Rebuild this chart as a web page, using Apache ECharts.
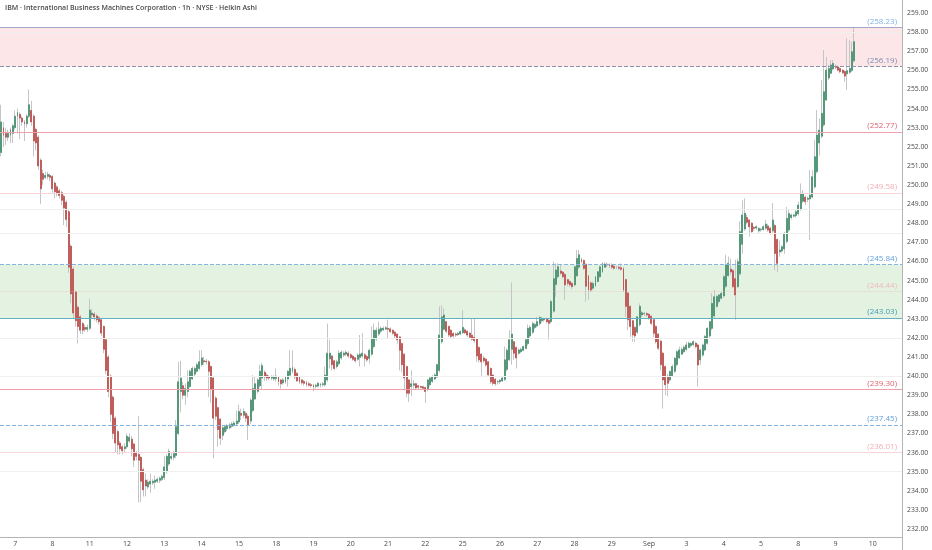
<!DOCTYPE html>
<html>
<head>
<meta charset="utf-8">
<title>IBM 1h Heikin Ashi</title>
<style>
  html, body { margin: 0; padding: 0; background: #fff; }
  #chart { width: 932px; height: 550px; }
</style>
</head>
<body>
<div id="chart"></div>
<script src="https://cdn.jsdelivr.net/npm/echarts@6/dist/echarts.min.js"></script>
<script>
var titleText = 'IBM · International Business Machines Corporation · 1h · NYSE · Heikin Ashi';

// trading days on screen and the text printed under each day's first bar
var dayNames = ['Aug 6','Aug 7','Aug 8','Aug 11','Aug 12','Aug 13','Aug 14','Aug 15','Aug 18','Aug 19','Aug 20',
  'Aug 21','Aug 22','Aug 25','Aug 26','Aug 27','Aug 28','Aug 29','Sep 2','Sep 3','Sep 4','Sep 5','Sep 8','Sep 9','Sep 10'];
var dayTicks = ['','7','8','11','12','13','14','15','18','19','20','21','22','25','26','27','28','29','Sep','3','4','5','8','9','10'];
// extended session, 1h bars
var hours = ['04:00','05:00','06:00','07:00','08:00','09:00','10:00','11:00','12:00','13:00','14:00','15:00','16:00','17:00','18:00','19:00'];
var firstDayHours = hours.slice(10);   // Aug 6 is cut at the left edge
var lastDayHours = hours.slice(0, 13); // Sep 10 is cut at the price scale

// Heikin Ashi bars [open, close, low, high]
var wk1 = [ // Aug 6 - Aug 8
  [251.7,253.3,251.5,254.2],[253.0,252.6,252.0,253.3],[252.7,252.5,252.1,253.0],[252.5,252.7,252.3,252.9],
  [252.6,252.9,252.2,253.0],[252.7,253.1,252.2,253.2],[253.0,253.6,252.9,253.9],[253.6,253.8,252.7,254.0],
  [253.7,253.5,252.4,253.8],[253.5,253.3,253.1,253.6],[253.3,253.2,252.3,253.4],[253.2,253.6,253.0,253.7],
  [253.6,254.2,253.5,255.0],[253.9,253.3,253.1,254.4],[253.6,252.3,251.5,253.7],[252.9,252.2,251.8,253.0],
  [252.5,251.0,250.8,252.6],[251.3,249.8,249.0,251.4],[250.6,250.3,250.0,250.8],[250.4,250.5,250.3,250.7],
  [250.45,250.55,250.3,250.7],[250.5,250.4,250.2,250.6],[250.45,249.8,249.6,250.5],[250.1,249.65,249.3,250.2],
  [249.9,249.55,249.4,250.0],[249.7,249.45,249.3,249.8],[249.6,249.2,248.95,249.7],[249.4,248.8,247.9,249.5],
  [249.1,248.2,247.8,249.2],[248.6,245.7,245.4,248.7],[246.8,244.3,243.8,246.9],[245.6,243.3,243.0,245.7],
  [244.4,242.9,242.6,244.5],[243.6,242.6,241.7,243.7],[243.1,242.4,242.2,243.2],[242.75,242.4,242.2,242.85],
  [242.55,242.45,242.3,242.7],[242.45,242.55,242.3,242.7]
];
var wk2 = [ // Aug 11 - Aug 15
  [242.5,243.45,242.4,244.05],[243.2,243.3,243.0,243.5],[243.25,243.1,242.9,243.35],[243.15,242.95,242.8,243.25],
  [243.05,242.85,242.7,243.15],[242.95,242.25,242.1,243.0],[242.6,241.4,241.2,242.65],[241.9,240.3,240.1,242.0],
  [241.0,239.2,238.9,241.1],[240.0,238.0,237.6,240.1],[238.9,237.0,236.7,239.0],[237.8,236.5,236.0,237.9],
  [237.1,236.4,235.9,237.2],[236.5,236.2,235.9,236.6],[236.3,236.1,235.9,236.4],[236.2,236.3,236.0,236.5],
  [236.3,236.85,236.2,237.0],[236.6,236.8,236.5,237.0],[236.7,236.2,235.8,236.85],[236.45,235.6,235.25,236.5],
  [236.0,235.8,235.6,236.1],[235.9,235.6,233.4,237.9],[235.75,234.5,233.4,235.8],[235.1,234.05,233.7,235.2],
  [234.55,234.25,233.7,234.9],[234.2,234.45,234.1,234.6],[234.35,234.5,233.9,234.9],[234.42,234.5,234.3,234.6],
  [234.45,234.55,234.1,234.8],[234.5,234.6,234.4,234.7],[234.55,234.65,234.4,234.75],[234.6,234.75,234.5,234.85],
  [234.7,235.25,234.55,235.8],[235.0,235.8,234.9,235.9],[235.4,236.05,235.3,236.2],[235.7,235.8,235.6,236.0],
  [235.75,235.95,235.6,236.1],[235.85,237.35,235.7,237.7],[237.0,239.7,236.9,240.75],[239.2,239.9,238.1,240.8],
  [239.5,239.0,238.8,239.7],[239.0,239.35,238.5,239.6],[239.2,239.7,238.9,240.3],[239.45,240.25,239.4,240.35],
  [239.85,240.4,239.8,240.5],[240.1,240.4,240.0,240.5],[240.25,240.6,240.2,240.7],[240.4,240.75,240.3,241.35],
  [240.6,240.95,240.5,241.35],[240.8,240.75,240.6,241.0],[240.78,240.75,240.6,240.9],[240.75,240.25,238.9,240.85],
  [240.5,239.3,238.6,240.55],[239.9,237.8,235.7,240.0],[238.85,237.9,237.7,238.95],[238.35,237.2,236.3,238.4],
  [237.75,236.75,236.4,237.8],[236.9,237.3,236.65,237.4],[237.1,237.35,237.0,237.45],[237.25,237.4,237.1,237.5],
  [237.3,237.45,237.2,237.55],[237.38,237.5,237.3,237.6],[237.45,237.55,237.35,237.65],[237.5,237.65,237.4,238.2],
  [237.6,238.15,237.5,238.5],[238.05,237.95,237.7,238.3],[237.95,238.15,237.8,238.3],[238.05,237.8,237.6,238.15],
  [237.9,237.45,236.65,238.0],[237.65,238.75,237.5,238.85],[238.2,239.35,238.1,240.05],[238.8,239.6,238.75,239.95],
  [239.2,239.8,239.1,239.9],[239.5,240.25,239.4,240.6],[239.9,240.55,239.3,240.7],[240.2,239.95,239.75,240.3],
  [240.05,239.9,239.75,240.15],[239.95,239.9,239.8,240.05],[239.9,239.95,239.8,240.05],[239.85,239.95,239.75,240.05]
];
var wk3 = [ // Aug 18 - Aug 22
  [239.88,240.0,239.7,240.4],[239.95,239.7,239.5,240.0],[239.8,239.6,239.35,239.85],[239.65,239.8,239.55,239.9],
  [239.7,239.95,239.6,240.0],[239.85,240.25,239.45,240.3],[240.05,240.4,239.95,241.35],[240.25,240.45,240.15,241.35],
  [240.35,239.95,239.85,240.45],[240.15,239.75,239.7,240.2],[239.95,239.7,239.6,240.0],[239.8,239.65,239.55,239.85],
  [239.72,239.62,239.5,239.8],[239.67,239.55,239.45,239.75],[239.6,239.52,239.45,239.7],[239.55,239.5,239.4,239.65],
  [239.52,239.44,239.2,239.6],[239.47,239.52,239.35,239.6],[239.48,239.62,239.4,239.7],[239.53,239.58,239.4,239.65],
  [239.55,239.6,239.45,239.7],[239.55,240.05,239.45,240.5],[239.8,241.2,239.7,242.75],[240.9,241.2,240.4,241.9],
  [241.05,240.6,240.3,241.1],[240.8,240.4,240.3,240.85],[240.5,240.75,240.4,240.85],[240.65,241.2,240.55,241.35],
  [240.95,241.25,240.85,241.35],[241.1,241.2,241.0,241.3],[241.15,241.25,241.05,241.35],[241.2,241.05,240.95,241.3],
  [241.12,240.97,240.9,241.2],[241.05,240.88,240.8,241.1],[240.96,240.8,240.7,241.0],[240.88,241.1,240.8,241.2],
  [240.98,241.15,240.5,242.15],[241.05,241.2,240.95,242.25],[241.12,240.92,240.5,241.2],[241.02,240.84,240.75,241.1],
  [240.93,241.35,240.65,241.45],[241.15,241.95,241.05,242.6],[241.55,242.4,241.45,242.75],[241.95,242.4,241.85,242.55],
  [242.2,242.45,242.1,242.85],[242.35,242.5,242.25,242.6],[242.42,242.5,242.35,242.6],[242.46,242.53,242.4,242.62],
  [242.5,242.45,242.0,242.95],[242.47,242.33,242.25,242.55],[242.4,242.24,242.15,242.45],[242.3,242.1,242.0,242.35],
  [242.2,241.9,241.7,242.25],[242.05,241.35,240.3,242.1],[241.7,240.6,240.2,241.75],[241.15,239.9,239.25,241.2],
  [240.5,239.1,238.9,240.55],[239.8,239.1,238.65,239.85],[239.45,239.6,238.95,240.3],[239.52,239.6,239.35,239.8],
  [239.6,239.38,239.3,239.65],[239.5,239.42,239.3,239.55],[239.46,239.41,239.35,239.5],[239.44,239.36,239.3,239.5],
  [239.4,239.2,238.6,239.45],[239.3,239.8,239.2,239.85],[239.55,239.9,239.45,239.97],[239.72,239.97,239.65,240.05],
  [239.85,240.06,239.8,240.15],[239.95,240.6,239.9,240.65],[240.3,242.15,240.2,243.65],[241.8,243.1,241.7,243.7],
  [242.45,243.2,242.4,243.55],[242.85,242.35,242.25,242.9],[242.6,242.15,242.05,242.65],[242.4,242.07,242.0,242.45],
  [242.23,242.1,242.0,242.3],[242.2,242.15,242.05,242.28],[242.17,242.24,242.1,242.3],[242.2,242.33,242.15,242.4]
];
var wk4 = [ // Aug 25 - Aug 29
  [242.27,242.55,242.2,243.45],[242.42,242.27,242.2,242.5],[242.35,242.15,242.05,242.4],[242.25,242.03,241.95,242.3],
  [242.14,241.93,241.85,243.0],[242.03,241.86,241.75,243.0],[241.95,241.05,240.75,242.0],[241.5,240.85,240.7,241.55],
  [241.15,240.75,239.95,241.2],[240.95,240.8,240.7,241.05],[240.88,240.58,240.5,240.95],[240.75,240.06,239.95,240.8],
  [240.4,239.7,239.6,240.45],[240.05,239.62,239.5,240.1],[239.83,239.6,239.5,239.9],[239.7,239.72,239.55,239.8],
  [239.71,239.78,239.6,239.85],[239.75,239.9,239.7,239.95],[239.82,240.85,239.75,241.55],[240.35,241.35,240.25,241.45],
  [240.85,241.9,240.8,242.4],[241.4,242.2,240.6,244.9],[241.8,241.2,240.85,241.85],[241.5,240.95,240.4,241.55],
  [241.2,241.37,241.1,241.45],[241.28,241.4,241.2,241.5],[241.35,241.55,241.3,241.6],[241.45,241.9,241.4,241.95],
  [241.7,242.5,241.6,242.7],[242.1,242.55,242.0,242.65],[242.3,242.75,242.2,242.85],[242.55,242.7,242.45,242.8],
  [242.62,242.85,242.55,243.1],[242.75,243.07,242.65,243.15],[242.9,243.02,242.8,243.1],[242.95,243.0,242.85,243.05],
  [242.98,242.85,242.75,243.05],[242.92,242.76,241.9,243.0],[242.85,243.9,242.75,244.0],[243.4,245.1,243.3,246.0],
  [244.8,245.55,244.15,245.9],[245.2,245.72,245.1,245.9],[245.5,245.38,245.3,245.85],[245.44,245.2,245.1,245.5],
  [245.32,244.77,243.98,245.4],[245.05,244.85,244.7,245.1],[244.95,244.77,244.65,245.0],[244.86,244.68,244.55,244.9],
  [244.77,245.72,244.7,245.8],[245.25,246.15,245.2,246.6],[245.7,246.35,245.6,246.6],[246.1,245.99,245.9,246.2],
  [246.05,245.64,245.55,246.1],[245.85,244.7,243.9,245.9],[245.25,244.5,243.98,245.3],[244.88,244.5,244.4,244.95],
  [244.6,244.85,244.5,244.95],[244.72,245.2,244.65,245.25],[244.95,245.46,244.9,245.5],[245.2,245.72,245.15,245.8],
  [245.45,245.9,245.4,245.95],[245.7,245.86,245.65,245.95],[245.85,245.81,245.7,245.95],[245.83,245.76,245.65,245.9],
  [245.8,245.69,245.6,245.9],[245.75,245.64,245.55,245.85],[245.7,245.69,245.6,245.8],[245.7,245.64,245.55,245.8],
  [245.67,245.59,245.5,245.9],[245.63,244.5,244.4,245.7],[245.05,243.65,243.1,245.1],[244.35,242.95,242.4,244.4],
  [243.65,242.6,242.05,243.7],[242.9,242.15,241.8,242.95],[242.55,242.1,241.8,242.6],[242.3,243.1,242.2,243.15],
  [242.7,243.65,242.6,243.8],[243.2,243.32,243.1,243.4],[243.26,243.28,243.15,243.35],[243.27,243.2,243.1,243.35]
];
var wk5 = [ // Sep 2 - Sep 5
  [243.24,243.03,242.95,243.3],[243.13,242.76,242.65,243.2],[242.95,242.24,242.05,243.0],[242.6,241.8,241.7,242.65],
  [242.2,241.46,241.35,242.25],[241.83,240.6,240.3,241.9],[241.2,239.8,238.3,241.25],[240.5,239.55,239.0,240.55],
  [240.0,239.62,238.95,240.1],[239.8,240.24,239.7,240.3],[240.02,240.5,239.95,240.6],[240.25,240.93,240.15,241.0],
  [240.6,241.28,240.5,241.35],[240.95,241.37,240.9,241.55],[241.15,241.4,241.1,241.5],[241.28,241.51,241.2,241.6],
  [241.4,241.63,241.3,241.8],[241.5,241.72,241.45,241.8],[241.6,241.7,241.5,241.78],[241.65,241.8,241.55,241.88],
  [241.72,241.54,241.45,241.8],[241.63,240.58,239.45,241.7],[240.85,241.37,240.6,241.45],[241.1,241.63,241.0,241.7],
  [241.37,242.07,241.3,242.15],[241.72,242.5,241.65,242.55],[242.1,242.85,242.0,242.9],[242.5,243.8,242.4,244.35],
  [243.15,244.15,243.05,244.5],[243.65,244.16,243.55,244.25],[243.9,244.25,243.8,244.3],[244.07,244.33,244.0,244.4],
  [244.2,245.2,244.1,245.3],[244.7,245.82,244.6,246.35],[245.26,245.9,245.2,246.25],[245.6,245.45,245.3,246.15],
  [245.52,244.68,244.6,245.6],[245.1,244.25,242.95,246.1],[244.68,245.99,244.6,246.15],[245.35,247.56,245.25,248.1],
  [246.9,248.43,246.4,249.2],[247.7,248.52,247.6,249.3],[248.3,248.05,247.95,248.45],[248.17,247.82,247.3,248.2],
  [248.0,247.56,247.5,248.05],[247.78,247.73,247.6,247.85],[247.75,247.82,247.65,247.9],[247.6,247.73,247.5,247.8],
  [247.66,247.68,247.55,247.75],[247.67,247.82,247.6,247.9],[247.74,247.96,247.65,248.17],[247.85,247.64,247.55,247.95],
  [247.74,247.47,247.4,247.8],[247.6,248.17,247.5,249.05],[247.88,246.42,245.55,247.95],[247.15,245.9,245.45,247.2],
  [246.5,246.6,246.25,247.1],[246.55,246.77,246.45,246.85],[246.66,247.47,246.4,247.55],[247.05,248.25,246.95,248.85],
  [247.65,248.51,247.55,248.7],[248.3,248.43,248.2,248.5],[248.37,248.43,248.3,248.5],[248.4,248.6,248.3,248.7]
];
var wk6 = [ // Sep 8 - Sep 9
  [248.5,248.95,248.4,249.13],[248.75,249.56,248.65,250.08],[249.15,249.56,249.05,249.74],[249.36,249.13,248.95,249.45],
  [249.25,249.3,249.1,249.4],[249.27,249.47,247.12,250.78],[249.37,250.43,249.3,250.78],[249.9,251.48,249.8,252.35],
  [250.7,252.61,250.6,253.92],[252.2,252.87,251.55,253.48],[252.55,253.75,252.45,255.49],[253.15,254.88,253.05,257.06],
  [254.45,256.01,254.4,256.71],[255.6,256.1,255.49,256.3],[255.85,256.28,255.8,256.54],[256.07,256.36,256.0,256.54],
  [256.22,256.15,256.05,256.3],[256.18,256.01,255.95,256.25],[256.1,255.93,255.85,256.15],[256.01,255.87,255.8,256.05],
  [255.94,255.7,255.4,256.0],[255.82,255.98,254.97,257.67],[255.9,256.1,255.8,257.58],[256.0,256.97,255.9,257.5],
  [256.5,257.5,256.4,258.28]
];

// drawn price levels and zones
var levelPrices = [258.23, 256.19, 252.77, 249.58, 245.84, 244.44, 243.03, 239.30, 237.45, 236.01];
var levelLabels = ['(258.23)', '(256.19)', '(252.77)', '(249.58)', '(245.84)', '(244.44)', '(243.03)', '(239.30)', '(237.45)', '(236.01)'];
var faintLevels = [257.97, 248.74, 247.49, 242.00, 240.00, 235.03];
var zones = [[256.19, 258.23], [243.03, 245.84]];
var yTicks = [232, 259, 1]; // min, max, step

// ---- styles ----
var GREEN = '#3d8d68', RED = '#bf4440', WICK = '#c3c5c9';
var levelStyle = [
  { line: '#a3a7c7', type: 'solid',  text: '#80b2e6' },
  { line: '#8d92a6', type: 'dashed', text: '#7b8db8' },
  { line: '#f0a0aa', type: 'solid',  text: '#e2616e' },
  { line: '#f7d5d9', type: 'solid',  text: '#f2adb6' },
  { line: '#85b4e2', type: 'dashed', text: '#5e9fe0' },
  { line: 'rgba(240,170,178,0.25)', type: 'solid', text: '#f3b8c0' },
  { line: '#63b1c0', type: 'solid',  text: '#3f9db1' },
  { line: '#f0a0aa', type: 'solid',  text: '#e2616e' },
  { line: '#85b4e2', type: 'dashed', text: '#5e9fe0' },
  { line: '#f7d5d9', type: 'solid',  text: '#f2adb6' }
];
var zoneColors = ['rgba(242,120,128,0.19)', 'rgba(130,195,120,0.22)'];

// ---- build ----
var cats = [], tickAt = [];
dayNames.forEach(function (d, i) {
  var hs = i === 0 ? firstDayHours : (i === dayNames.length - 1 ? lastDayHours : hours);
  hs.forEach(function (h, j) {
    cats.push(d + ' ' + h);
    tickAt.push(j === 0 && i > 0 ? dayTicks[i] : '');
  });
});

var ohlc = [].concat(wk1, wk2, wk3, wk4, wk5, wk6);
var bodies = ohlc.map(function (r) {
  return [r[0], r[1], Math.min(r[0], r[1]), Math.max(r[0], r[1])];
});

var lineData = levelPrices.map(function (p, i) {
  var s = levelStyle[i];
  return {
    yAxis: p,
    lineStyle: { color: s.line, type: s.type, width: 1 },
    label: { show: true, formatter: levelLabels[i], position: 'insideEndTop', color: s.text,
             fontSize: 8, fontFamily: 'Open Sans', distance: [5, 2] }
  };
}).concat(faintLevels.map(function (p) {
  return { yAxis: p, lineStyle: { color: '#efefef', type: 'solid', width: 1 }, label: { show: false } };
}));

var areaData = zones.map(function (z, i) {
  return [{ yAxis: z[0], itemStyle: { color: zoneColors[i] } }, { yAxis: z[1] }];
});

var chart = echarts.init(document.getElementById('chart'));
chart.setOption({
  animation: false,
  backgroundColor: '#ffffff',
  textStyle: { fontFamily: 'Open Sans' },
  grid: { left: 0, right: 30, top: 13, height: 516 },
  graphic: [
    { type: 'line', shape: { x1: 902.5, y1: 0, x2: 902.5, y2: 550 }, style: { stroke: '#b4b4b4', lineWidth: 1 }, z: 10 },
    { type: 'text', left: 5, top: 4, style: { text: titleText, fill: '#4a4a4a', fontSize: 7,
      fontFamily: 'Open Sans', fontWeight: 600 }, z: 10 }
  ],
  xAxis: {
    type: 'category',
    data: cats,
    boundaryGap: true,
    offset: 8,
    axisLine: { lineStyle: { color: '#b4b4b4' } },
    axisTick: { show: false },
    splitLine: { show: false },
    axisLabel: {
      interval: function (idx) { return tickAt[idx] !== ''; },
      formatter: function (v, idx) { return tickAt[idx]; },
      fontSize: 7, color: '#4a4a4a', margin: 3, fontFamily: 'Open Sans'
    }
  },
  yAxis: {
    type: 'value',
    position: 'right',
    min: yTicks[0], max: yTicks[1], interval: yTicks[2],
    axisLine: { show: false },
    axisTick: { show: false },
    splitLine: { show: false },
    axisLabel: {
      formatter: function (v) { return v.toFixed(2); },
      fontSize: 6.8, color: '#4a4a4a', margin: 5, fontFamily: 'Open Sans'
    }
  },
  series: [
    {
      name: 'levels', type: 'line', data: [], silent: true, z: 1,
      markArea: { silent: true, data: areaData },
      markLine: { silent: true, symbol: 'none', precision: 2, data: lineData }
    },
    {
      name: 'wicks', type: 'candlestick', data: ohlc, z: 2, barWidth: '62%', silent: true,
      itemStyle: { color: WICK, color0: WICK, borderColor: WICK, borderColor0: WICK, borderWidth: 1 }
    },
    {
      name: 'bodies', type: 'candlestick', data: bodies, z: 3, barWidth: '62%', silent: true,
      itemStyle: { color: GREEN, color0: RED, borderColor: GREEN, borderColor0: RED, borderWidth: 0.6 }
    }
  ]
});
</script>
</body>
</html>
